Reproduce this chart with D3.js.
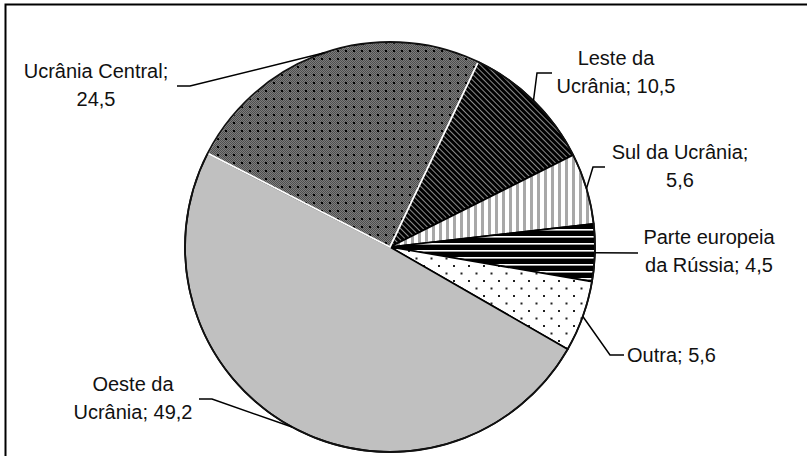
<!DOCTYPE html>
<html>
<head>
<meta charset="utf-8">
<script src="https://cdn.jsdelivr.net/npm/d3@7"></script>
<style>
  html, body { margin: 0; padding: 0; background: #fff; }
  svg { display: block; }
  text { font-family: "Liberation Sans", Arial, sans-serif; font-size: 20px; fill: #111; }
</style>
</head>
<body>
<script>
// Regions, in drawing order (clockwise)
const categories = ["Leste da Ucrânia", "Sul da Ucrânia", "Parte europeia da Rússia", "Outra", "Oeste da Ucrânia", "Ucrânia Central"];
const values = [10.5, 5.6, 4.5, 5.6, 49.2, 24.5];
// Label text, split into lines; the value is appended to the last line
const labelHeads = [
  ["Leste da", "Ucrânia;"],
  ["Sul da Ucrânia;", ""],
  ["Parte europeia", "da Rússia;"],
  ["Outra;"],
  ["Oeste da", "Ucrânia;"],
  ["Ucrânia Central;", ""]
];
const patternIds = ["p-diag", "p-vert", "p-horiz", "p-dots", null, "p-grid"];

// Label placement: text anchor point, leader elbow and leader end
const labelLayout = [
  { x: 616, y: 65,  anchor: "middle", elbow: [537, 73], end: [552, 73] },
  { x: 680, y: 159, anchor: "middle", elbow: [593, 167], end: [605, 167] },
  { x: 709, y: 244, anchor: "middle", elbow: null, end: [638, 253] },
  { x: 627, y: 362, anchor: "start",  elbow: [610, 355], end: [624, 355] },
  { x: 133, y: 391, anchor: "middle", elbow: [212, 399], end: [199, 399] },
  { x: 96,  y: 78,  anchor: "middle", elbow: [190, 86], end: [177, 86] }
];

const W = 807, H = 456;
const cx = 390, cy = 247, R = 205;
const startDeg = 25.5;
const lineGap = 28;

const fmt = v => d3.format(".1f")(v).replace(".", ",");

const svg = d3.select("body").append("svg").attr("width", W).attr("height", H);
const defs = svg.append("defs");

// Dark grey fine checker with a grid of black dots
const pg = defs.append("pattern").attr("id", "p-grid").attr("patternUnits", "userSpaceOnUse")
  .attr("width", 8).attr("height", 8);
pg.append("rect").attr("width", 8).attr("height", 8).attr("fill", "#4e4e4e");
for (let i = 0; i < 8; i++) for (let j = 0; j < 8; j++) {
  if ((i + j) % 2 === 0) pg.append("rect").attr("x", i).attr("y", j).attr("width", 1).attr("height", 1).attr("fill", "#7c7c7c");
}
pg.append("rect").attr("x", 3).attr("y", 3).attr("width", 2).attr("height", 2).attr("fill", "#000");

// Black with thin grey diagonal lines
const pd = defs.append("pattern").attr("id", "p-diag").attr("patternUnits", "userSpaceOnUse")
  .attr("width", 4).attr("height", 4).attr("patternTransform", "rotate(-45)");
pd.append("rect").attr("width", 4).attr("height", 4).attr("fill", "#000");
pd.append("rect").attr("width", 1).attr("height", 4).attr("fill", "#8a8a8a");

// White with grey vertical stripes
const pv = defs.append("pattern").attr("id", "p-vert").attr("patternUnits", "userSpaceOnUse")
  .attr("width", 7).attr("height", 7);
pv.append("rect").attr("width", 7).attr("height", 7).attr("fill", "#fff");
pv.append("rect").attr("width", 3).attr("height", 7).attr("fill", "#a8a8a8");

// Black with thin white horizontal lines
const ph = defs.append("pattern").attr("id", "p-horiz").attr("patternUnits", "userSpaceOnUse")
  .attr("width", 7).attr("height", 7);
ph.append("rect").attr("width", 7).attr("height", 7).attr("fill", "#000");
ph.append("rect").attr("y", 3).attr("width", 7).attr("height", 1.6).attr("fill", "#fff");

// White with sparse black dots
const pdt = defs.append("pattern").attr("id", "p-dots").attr("patternUnits", "userSpaceOnUse")
  .attr("width", 15).attr("height", 15);
pdt.append("rect").attr("width", 15).attr("height", 15).attr("fill", "#fff");
pdt.append("rect").attr("x", 3).attr("y", 3).attr("width", 2).attr("height", 2).attr("fill", "#222");
pdt.append("rect").attr("x", 10.5).attr("y", 10.5).attr("width", 2).attr("height", 2).attr("fill", "#222");

// Chart frame
svg.append("rect").attr("x", 5.5).attr("y", 4.5).attr("width", W + 10).attr("height", H + 10)
  .attr("fill", "none").attr("stroke", "#000").attr("stroke-width", 2);

const a0 = startDeg * Math.PI / 180;
const pie = d3.pie().sort(null).value(d => d).startAngle(a0).endAngle(a0 + 2 * Math.PI);
const arcs = pie(values);
const arc = d3.arc().innerRadius(0).outerRadius(R);

const g = svg.append("g").attr("transform", `translate(${cx},${cy})`);

const fillFor = i => patternIds[i] ? `url(#${patternIds[i]})` : "#c0c0c0";
const centralIdx = categories.indexOf("Ucrânia Central");

g.selectAll("path.slice")
  .data(arcs.filter(d => d.index !== centralIdx))
  .join("path")
  .attr("class", "slice")
  .attr("d", arc)
  .attr("fill", d => fillFor(d.index))
  .attr("stroke", "#000")
  .attr("stroke-width", 1.6)
  .attr("stroke-linejoin", "round");

g.append("path")
  .datum(arcs[centralIdx])
  .attr("d", arc)
  .attr("fill", fillFor(centralIdx))
  .attr("stroke", "#fff")
  .attr("stroke-width", 1.8);

// Outer rim
g.append("circle").attr("r", R).attr("fill", "none").attr("stroke", "#111").attr("stroke-width", 1.8);

// Leader lines from the middle of each slice's rim
const leaders = svg.append("g").attr("fill", "none").attr("stroke", "#000").attr("stroke-width", 1.5);
arcs.forEach(d => {
  const m = (d.startAngle + d.endAngle) / 2;
  const p0 = [cx + R * Math.sin(m), cy - R * Math.cos(m)];
  const L = labelLayout[d.index];
  const pts = [p0];
  if (L.elbow) pts.push(L.elbow);
  pts.push(L.end);
  leaders.append("path").attr("d", d3.line()(pts));
});

// Labels
arcs.forEach(d => {
  const L = labelLayout[d.index];
  const lines = labelHeads[d.index].slice();
  const last = lines.length - 1;
  lines[last] = (lines[last] ? lines[last] + " " : "") + fmt(values[d.index]);
  const t = svg.append("text").attr("text-anchor", L.anchor);
  lines.forEach((s, k) => {
    t.append("tspan").attr("x", L.x).attr("y", L.y + k * lineGap).text(s);
  });
});
</script>
</body>
</html>
